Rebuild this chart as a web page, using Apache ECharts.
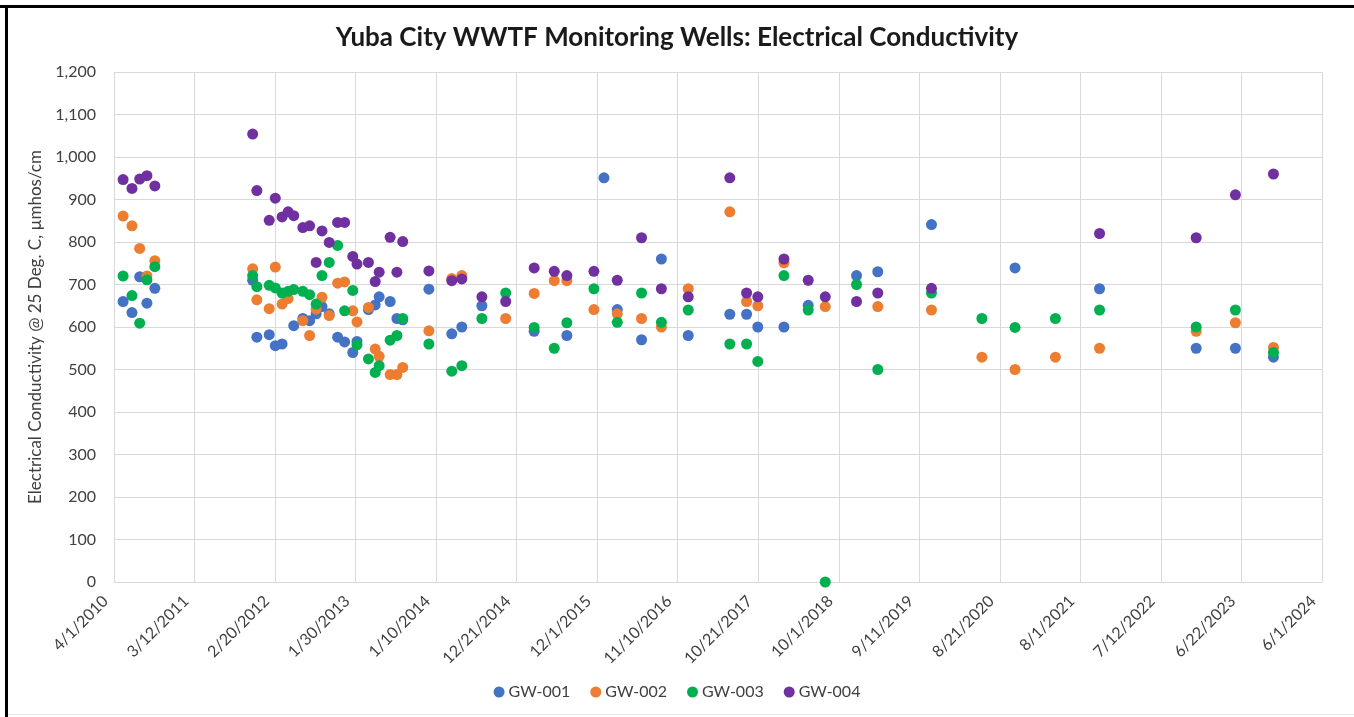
<!DOCTYPE html>
<html>
<head>
<meta charset="utf-8">
<script src="https://cdn.jsdelivr.net/npm/echarts@6/dist/echarts.min.js"></script>
<style>
  html, body { margin: 0; padding: 0; background: #fff; }
  #chart { width: 1354px; height: 717px; }
</style>
</head>
<body>
<div id="chart"></div>
<script>
// x tick labels every 345 days from 4/1/2010 (Excel date axis)
const xTickStart = '2010-04-01';
const xTickStep = 345;
const xTickCount = 15;

const seriesNames = ['GW-001', 'GW-002', 'GW-003', 'GW-004'];
const seriesColors = ['#4472C4', '#ED7D31', '#00B050', '#7030A0'];

const gw1Dates = ['2010-05-10', '2010-06-17', '2010-07-20', '2010-08-20', '2010-09-23',
  '2011-11-16', '2011-12-04', '2012-01-26', '2012-02-21', '2012-03-21', '2012-05-10',
  '2012-06-18', '2012-07-17', '2012-08-14', '2012-09-08', '2012-10-09', '2012-11-14',
  '2012-12-14', '2013-01-18', '2013-02-05', '2013-03-26', '2013-04-24', '2013-05-11',
  '2013-06-27', '2013-07-26', '2013-08-20', '2013-12-10', '2014-03-18', '2014-04-30',
  '2014-07-25', '2015-03-06', '2015-07-24', '2015-12-30', '2016-02-25', '2016-06-08',
  '2016-09-01', '2016-12-25', '2017-06-21', '2017-09-01', '2017-10-19', '2018-02-08',
  '2018-05-23', '2018-12-16', '2019-03-17', '2019-11-02', '2020-10-25', '2021-10-22',
  '2022-12-10', '2023-05-27', '2023-11-06'];
const gw1Values = [660, 634, 718, 656, 691,
  710, 576, 582, 556, 560, 603,
  620, 615, 631, 648, 631, 576,
  565, 540, 566, 641, 652, 671,
  660, 620, 617, 689, 584, 600,
  650, 590, 580, 951, 641, 570,
  760, 580, 630, 630, 600, 600,
  651, 721, 730, 841, 739, 690,
  550, 550, 529];

const gw2Dates = ['2010-05-10', '2010-06-17', '2010-07-20', '2010-08-20', '2010-09-23',
  '2011-11-16', '2011-12-04', '2012-01-26', '2012-02-21', '2012-03-21', '2012-04-16',
  '2012-06-18', '2012-07-17', '2012-08-14', '2012-09-08', '2012-10-09', '2012-11-14',
  '2012-12-14', '2013-01-18', '2013-02-05', '2013-03-26', '2013-04-24', '2013-05-11',
  '2013-06-27', '2013-07-26', '2013-08-20', '2013-12-10', '2014-03-18', '2014-04-30',
  '2014-11-04', '2015-03-06', '2015-05-31', '2015-07-24', '2015-11-17', '2016-02-25',
  '2016-06-08', '2016-09-01', '2016-12-25', '2017-06-21', '2017-09-01', '2017-10-19',
  '2018-02-08', '2018-08-04', '2019-03-17', '2019-11-02', '2020-06-05', '2020-10-25',
  '2021-04-16', '2021-10-22', '2022-12-10', '2023-05-27', '2023-11-06'];
const gw2Values = [861, 838, 785, 720, 756,
  737, 664, 643, 741, 654, 667,
  615, 580, 642, 670, 627, 703,
  706, 638, 612, 646, 548, 531,
  488, 488, 505, 591, 714, 721,
  620, 679, 709, 709, 641, 631,
  620, 600, 690, 871, 660, 650,
  751, 648, 648, 640, 529, 500,
  529, 550, 590, 610, 552];

const gw3Dates = ['2010-05-10', '2010-06-17', '2010-07-20', '2010-08-20', '2010-09-23',
  '2011-11-16', '2011-12-04', '2012-01-26', '2012-02-21', '2012-03-21', '2012-04-16',
  '2012-05-10', '2012-06-18', '2012-07-17', '2012-08-14', '2012-09-08', '2012-10-09',
  '2012-11-14', '2012-12-14', '2013-01-18', '2013-02-05', '2013-03-26', '2013-04-24',
  '2013-05-11', '2013-06-27', '2013-07-26', '2013-08-20', '2013-12-10', '2014-03-18',
  '2014-04-30', '2014-07-25', '2014-11-04', '2015-03-06', '2015-05-31', '2015-07-24',
  '2015-11-17', '2016-02-25', '2016-06-08', '2016-09-01', '2016-12-25', '2017-06-21',
  '2017-09-01', '2017-10-19', '2018-02-08', '2018-05-23', '2018-08-04', '2018-12-16',
  '2019-03-17', '2019-11-02', '2020-06-05', '2020-10-25', '2021-04-16', '2021-10-22',
  '2022-12-10', '2023-05-27', '2023-11-06'];
const gw3Values = [720, 674, 609, 711, 742,
  721, 695, 698, 692, 680, 684,
  688, 684, 676, 654, 721, 752,
  792, 638, 686, 558, 525, 493,
  509, 569, 580, 620, 560, 496,
  509, 620, 680, 599, 550, 610,
  690, 611, 680, 611, 640, 560,
  560, 519, 721, 640, 0, 700,
  500, 680, 620, 599, 620, 640,
  600, 640, 540];

const gw4Dates = ['2010-05-10', '2010-06-17', '2010-07-20', '2010-08-20', '2010-09-23',
  '2011-11-16', '2011-12-04', '2012-01-26', '2012-02-21', '2012-03-21', '2012-04-16',
  '2012-05-10', '2012-06-18', '2012-07-17', '2012-08-14', '2012-09-08', '2012-10-09',
  '2012-11-14', '2012-12-14', '2013-01-18', '2013-02-05', '2013-03-26', '2013-04-24',
  '2013-05-11', '2013-06-27', '2013-07-26', '2013-08-20', '2013-12-10', '2014-03-18',
  '2014-04-30', '2014-07-25', '2014-11-04', '2015-03-06', '2015-05-31', '2015-07-24',
  '2015-11-17', '2016-02-25', '2016-06-08', '2016-09-01', '2016-12-25', '2017-06-21',
  '2017-09-01', '2017-10-19', '2018-02-08', '2018-05-23', '2018-08-04', '2018-12-16',
  '2019-03-17', '2019-11-02', '2021-10-22', '2022-12-10', '2023-05-27', '2023-11-06'];
const gw4Values = [947, 926, 948, 956, 932,
  1054, 921, 851, 903, 859, 871,
  862, 834, 838, 752, 826, 799,
  846, 846, 766, 748, 752, 707,
  729, 811, 729, 801, 732, 709,
  713, 671, 660, 739, 731, 721,
  731, 710, 810, 690, 671, 951,
  680, 671, 760, 710, 671, 660,
  680, 691, 820, 810, 911, 960];

const allDates = [gw1Dates, gw2Dates, gw3Dates, gw4Dates];
const allValues = [gw1Values, gw2Values, gw3Values, gw4Values];

const DAY = 86400000;
function utc(s) {
  const p = s.split('-').map(Number);
  return Date.UTC(p[0], p[1] - 1, p[2]);
}
const base = utc(xTickStart);
function dayOf(s) { return Math.round((utc(s) - base) / DAY); }
function dateLabel(d) {
  const dt = new Date(base + d * DAY);
  return (dt.getUTCMonth() + 1) + '/' + dt.getUTCDate() + '/' + dt.getUTCFullYear();
}

const font = 'Lato, "Open Sans", sans-serif';

const series = seriesNames.map((name, i) => ({
  name: name,
  type: 'scatter',
  symbol: 'circle',
  symbolSize: 11,
  itemStyle: { color: seriesColors[i], opacity: 1 },
  z: 2 + i,
  data: allDates[i].map((d, j) => [dayOf(d), allValues[i][j]])
}));

const chart = echarts.init(document.getElementById('chart'), null, { renderer: 'canvas' });
chart.setOption({
  animation: false,
  backgroundColor: '#ffffff',
  title: {
    text: 'Yuba City WWTF Monitoring Wells: Electrical Conductivity',
    left: 'center',
    top: 20,
    textStyle: { fontFamily: font, fontSize: 26, fontWeight: 'bold', color: '#1a1a1a' }
  },
  legend: {
    bottom: 12,
    left: 'center',
    itemWidth: 11,
    itemHeight: 11,
    itemGap: 20,
    icon: 'circle',
    textStyle: { fontFamily: font, fontSize: 16, color: '#404040', padding: [0, 0, 0, -1] },
    data: seriesNames
  },
  grid: { left: 114, right: 32, top: 72, bottom: 135 },
  xAxis: {
    type: 'value',
    min: 0,
    max: xTickStep * xTickCount,
    interval: xTickStep,
    axisLine: { show: true, lineStyle: { color: '#d9d9d9' } },
    axisTick: { show: false },
    splitLine: { show: true, lineStyle: { color: '#d9d9d9', width: 1 } },
    axisLabel: {
      rotate: 45,
      margin: 8,
      padding: [0, 12, 0, 0],
      fontFamily: font,
      fontSize: 16,
      color: '#404040',
      formatter: v => dateLabel(v)
    }
  },
  yAxis: {
    type: 'value',
    min: 0,
    max: 1200,
    interval: 100,
    name: 'Electrical Conductivity @ 25 Deg. C, µmhos/cm',
    nameLocation: 'middle',
    nameGap: 68,
    nameTextStyle: { fontFamily: font, fontSize: 17, color: '#404040' },
    axisLine: { show: false },
    axisTick: { show: false },
    splitLine: { show: true, lineStyle: { color: '#d9d9d9', width: 1 } },
    axisLabel: {
      margin: 18,
      fontFamily: font,
      fontSize: 16,
      color: '#404040',
      formatter: v => String(v).replace(/\B(?=(\d{3})+(?!\d))/g, ',')
    }
  },
  graphic: [
    { type: 'rect', shape: { x: 0, y: 5, width: 1354, height: 3 }, style: { fill: '#000' }, silent: true },
    { type: 'rect', shape: { x: 5, y: 5, width: 3, height: 712 }, style: { fill: '#000' }, silent: true },
    { type: 'rect', shape: { x: 8, y: 714, width: 1346, height: 1 }, style: { fill: '#e6e6e6' }, silent: true }
  ],
  series: series
});
</script>
</body>
</html>
